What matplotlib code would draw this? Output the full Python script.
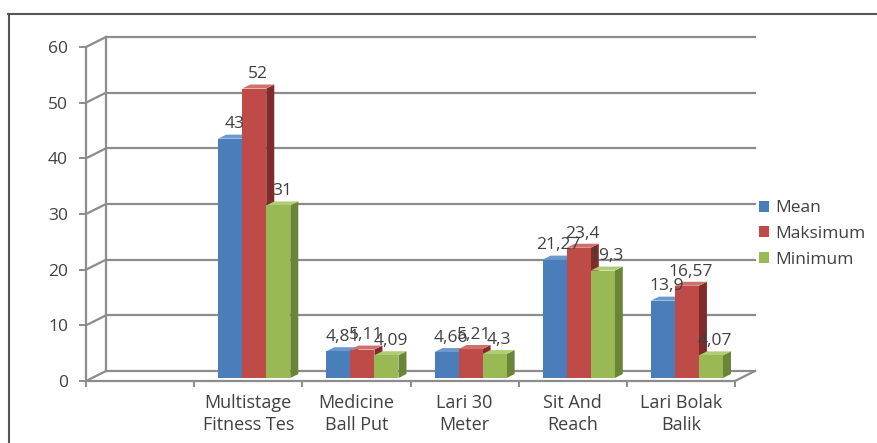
import matplotlib
matplotlib.use("Agg")
import numpy as np
import matplotlib.pyplot as plt
from matplotlib.patches import Polygon, Patch
from matplotlib.lines import Line2D

plt.rcParams['font.family'] = ['Open Sans', 'DejaVu Sans']

# data
categories = ["", "Multistage\nFitness Tes", "Medicine\nBall Put", "Lari 30\nMeter",
              "Sit And\nReach", "Lari Bolak\nBalik"]
series = ["Mean", "Maksimum", "Minimum"]
mean = [np.nan, 43, 4.81, 4.66, 21.27, 13.9]
maksimum = [np.nan, 52, 5.11, 5.21, 23.4, 16.57]
minimum = [np.nan, 31, 4.09, 4.3, 19.3, 4.07]
values = [mean, maksimum, minimum]

front_col = ["#4A7EBB", "#BE4B48", "#98B954"]
top_col = ["#6A98CF", "#D0706D", "#B0CC75"]
side_col = ["#34598A", "#7E2B29", "#6A8538"]
text_c = "#404040"

W, H = 877, 443
fig = plt.figure(figsize=(W / 100, H / 100), dpi=100)
ax = fig.add_axes([86 / W, (H - 381) / H, 649 / W, 334 / H])
ax.set_xlim(0, 6)
ax.set_ylim(0, 60)

# depth offset of the back wall in data units
DX = 20 / (649 / 6)
DY = 10 / (334 / 60)

def proj(x, y, z):
    return x + z * DX, y + z * DY

grid_c = "#8C8C8C"
# back wall gridlines + side wall diagonals
for v in range(0, 70, 10):
    x0, y0 = proj(0, v, 1)
    x1, y1 = proj(6, v, 1)
    ax.plot([x0, x1], [y0, y1], color=grid_c, lw=1.6, clip_on=False, zorder=1)
    ax.plot([0, x0], [v, y0], color=grid_c, lw=1.6, clip_on=False, zorder=1)
bx, by0 = proj(0, 0, 1)
_, by1 = proj(0, 60, 1)
ax.plot([bx, bx], [by0, by1], color=grid_c, lw=1.6, clip_on=False, zorder=1)
rx, ry = proj(6, 0, 1)
ax.plot([6, rx], [0, ry], color=grid_c, lw=1.6, clip_on=False, zorder=1)

# bars
n = len(series)
bw = 1 / (n + 1.5)
z0, z1 = 0.3, 0.7
for i in range(len(categories)):
    for k in range(n):
        v = values[k][i]
        if np.isnan(v):
            continue
        xl = i + 0.75 * bw + k * bw
        xr = xl + bw
        fx0, fy0 = proj(xl, 0, z0)
        fx1, _ = proj(xr, 0, z0)
        _, fy1 = proj(xl, v, z0)
        bx0, by0 = proj(xl, 0, z1)
        bx1, _ = proj(xr, 0, z1)
        _, byt = proj(xl, v, z1)
        side = Polygon([(fx1, fy0), (bx1, by0), (bx1, byt), (fx1, fy1)],
                       closed=True, fc=side_col[k], ec="none", zorder=3, clip_on=False)
        top = Polygon([(fx0, fy1), (fx1, fy1), (bx1, byt), (bx0, byt)],
                      closed=True, fc=top_col[k], ec="none", zorder=3, clip_on=False)
        ax.add_patch(side)
        ax.add_patch(top)
        ax.bar(fx0, v, width=fx1 - fx0, bottom=fy0, align="edge",
               color=front_col[k], zorder=3, clip_on=False)
        lx, ly = proj(xl + bw / 2, v, 0.5)
        ax.annotate(f"{v:g}".replace(".", ","), (lx, ly), xytext=(0, 3),
                    textcoords="offset points", ha="center", va="bottom",
                    fontsize=12.5, color=text_c, zorder=5)

# axes styling
for s in ["top", "right"]:
    ax.spines[s].set_visible(False)
for s in ["left", "bottom"]:
    ax.spines[s].set_color(grid_c)
    ax.spines[s].set_linewidth(1.6)
ax.set_yticks(range(0, 70, 10))
ax.tick_params(axis="y", length=5, width=1.4, color=grid_c, pad=8,
               labelsize=12.5, labelcolor=text_c)
ax.set_xticks(np.arange(len(categories)) + 0.5)
ax.set_xticklabels(categories, fontsize=13, color=text_c, linespacing=1.3)
ax.set_xticks(np.arange(len(categories) + 1), minor=True)
ax.tick_params(axis="x", which="major", length=0, pad=9)
ax.tick_params(axis="x", which="minor", length=4, width=1.4, color=grid_c)
ax.patch.set_visible(False)

# legend
handles = [Patch(fc=c, ec="none") for c in front_col]
fig.legend(handles, series, loc="center left", bbox_to_anchor=(743 / W, (H - 234) / H),
           frameon=False, fontsize=12.5, handlelength=0.6, handleheight=0.6,
           handletextpad=0.35, labelspacing=0.55, labelcolor=text_c)

# outer frame
fig.add_artist(Line2D([8 / W, 1], [(H - 14) / H] * 2, color="#555555", lw=1.5))
fig.add_artist(Line2D([9 / W] * 2, [0, (H - 14) / H], color="#555555", lw=1.5))

fig.savefig("out.png", dpi=100)
